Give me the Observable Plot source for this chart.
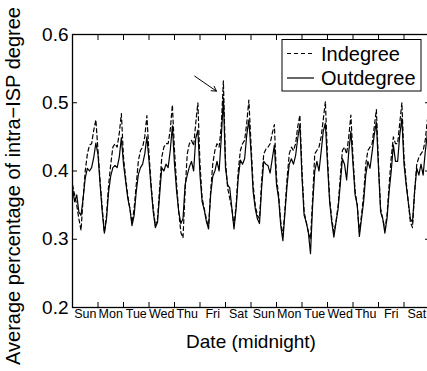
<!DOCTYPE html>
<html><head><meta charset="utf-8">
<script src="https://cdn.jsdelivr.net/npm/d3@7"></script>
<script src="https://cdn.jsdelivr.net/npm/@observablehq/plot@0.6"></script>
<style>html,body{margin:0;padding:0;background:#fff;overflow:hidden;width:427px;height:371px}</style>
</head><body><div id="chart"></div>
<script>
const dayLabels = ["Sun","Mon","Tue","Wed","Thu","Fri","Sat","Sun","Mon","Tue","Wed","Thu","Fri","Sat"];
const yTicks = [0.2, 0.3, 0.4, 0.5, 0.6];
const stepHours = 2;
const indegree = [
  0.38,0.365,0.35,0.33,0.313,0.36,0.40,0.425,0.438,0.44,0.46,0.475,
  0.43,0.385,0.345,0.31,0.335,0.38,0.41,0.435,0.44,0.435,0.455,0.484,
  0.42,0.39,0.365,0.345,0.324,0.345,0.38,0.415,0.43,0.435,0.45,0.481,
  0.425,0.38,0.345,0.32,0.33,0.375,0.42,0.435,0.44,0.44,0.46,0.497,
  0.43,0.38,0.34,0.31,0.302,0.37,0.425,0.44,0.445,0.437,0.47,0.50,
  0.41,0.36,0.345,0.33,0.315,0.37,0.41,0.43,0.44,0.435,0.465,0.532,
  0.415,0.375,0.36,0.345,0.32,0.35,0.40,0.43,0.44,0.445,0.47,0.504,
  0.44,0.38,0.35,0.335,0.33,0.385,0.425,0.432,0.435,0.44,0.455,0.468,
  0.39,0.365,0.325,0.305,0.345,0.39,0.425,0.435,0.43,0.44,0.465,0.482,
  0.40,0.34,0.325,0.31,0.30,0.36,0.425,0.43,0.435,0.45,0.475,0.502,
  0.42,0.36,0.33,0.31,0.325,0.35,0.39,0.43,0.435,0.425,0.45,0.482,
  0.42,0.37,0.35,0.31,0.335,0.365,0.41,0.43,0.435,0.44,0.465,0.49,
  0.41,0.345,0.33,0.315,0.335,0.38,0.42,0.45,0.44,0.44,0.47,0.50,
  0.42,0.385,0.355,0.325,0.317,0.37,0.41,0.42,0.425,0.43,0.445,0.475
];
const outdegree = [
  0.375,0.355,0.365,0.34,0.335,0.36,0.39,0.404,0.40,0.405,0.42,0.441,
  0.424,0.38,0.34,0.309,0.33,0.37,0.393,0.405,0.408,0.405,0.42,0.449,
  0.41,0.385,0.36,0.345,0.32,0.335,0.37,0.395,0.405,0.41,0.425,0.45,
  0.415,0.375,0.34,0.317,0.325,0.365,0.405,0.40,0.41,0.405,0.43,0.466,
  0.41,0.37,0.34,0.323,0.33,0.38,0.394,0.406,0.414,0.40,0.448,0.46,
  0.394,0.355,0.343,0.326,0.316,0.365,0.392,0.40,0.414,0.40,0.448,0.507,
  0.404,0.38,0.375,0.345,0.315,0.345,0.39,0.416,0.41,0.418,0.453,0.475,
  0.428,0.37,0.345,0.33,0.323,0.375,0.414,0.41,0.408,0.397,0.418,0.438,
  0.38,0.36,0.32,0.298,0.34,0.38,0.41,0.418,0.41,0.423,0.448,0.468,
  0.39,0.335,0.325,0.31,0.279,0.35,0.40,0.414,0.40,0.428,0.458,0.47,
  0.41,0.355,0.325,0.303,0.325,0.345,0.38,0.418,0.41,0.387,0.428,0.458,
  0.41,0.365,0.35,0.304,0.33,0.355,0.394,0.414,0.404,0.428,0.453,0.472,
  0.404,0.34,0.33,0.309,0.33,0.37,0.40,0.438,0.414,0.414,0.453,0.477,
  0.41,0.38,0.355,0.33,0.325,0.37,0.404,0.394,0.41,0.394,0.428,0.455
];
const arrowNote = [{x1: 115, y1: 0.539, x2: 135.5, y2: 0.517}];
const seriesNames = ["Indegree", "Outdegree"];

const hours = indegree.map((_, i) => i * stepHours);
const inRows = hours.map((h, i) => ({h, v: indegree[i]}));
const outRows = hours.map((h, i) => ({h, v: outdegree[i]}));
const midnights = dayLabels.slice(1).map((_, i) => (i + 1) * 24);
const noons = dayLabels.map((_, i) => i * 24 + 12);

const font = "'Liberation Sans', Arial, Helvetica, sans-serif";
const chart = Plot.plot({
  width: 431, height: 371,
  marginLeft: 72, marginRight: 2, marginTop: 34, marginBottom: 64,
  style: {fontFamily: font, background: "white", color: "black", maxWidth: "none"},
  x: {domain: [0, 336]},
  y: {domain: [0.2, 0.6]},
  marks: [
    Plot.line(inRows, {x: "h", y: "v", stroke: "black", strokeWidth: 1.2, strokeDasharray: "4,3"}),
    Plot.line(outRows, {x: "h", y: "v", stroke: "black", strokeWidth: 1.2}),
    Plot.axisY({ticks: yTicks, tickSize: 0, tickPadding: 4, tickFormat: d3.format(".1f"), fontSize: 19, label: null}),
    Plot.axisY({ticks: yTicks, tickSize: 5, dx: 5, fill: "none", label: null}),
    Plot.axisY({anchor: "right", ticks: yTicks, tickSize: 5, dx: -5, fill: "none", label: null}),
    Plot.axisX({ticks: midnights, tickSize: 5, dy: -5, fill: "none", label: null}),
    Plot.axisX({anchor: "top", ticks: midnights, tickSize: 5, dy: 5, fill: "none", label: null}),
    Plot.axisX({ticks: noons, tickSize: 0, tickPadding: 2, tickFormat: d => dayLabels[(d - 12) / 24], fontSize: 12.5, label: null}),
    Plot.frame({stroke: "black", strokeWidth: 1.3}),
    Plot.arrow(arrowNote, {x1: "x1", y1: "y1", x2: "x2", y2: "y2", stroke: "black", strokeWidth: 1, headLength: 8}),
    Plot.text(["Date (midnight)"], {text: d => d, frameAnchor: "bottom", dy: 34, fontSize: 19, lineAnchor: "middle", textAnchor: "middle", fill: "black"}),
    Plot.text(["Average percentage of intra−ISP degree"], {text: d => d, frameAnchor: "left", dx: -59, dy: 15, rotate: -90, fontSize: 20, lineAnchor: "middle", textAnchor: "middle", fill: "black"})
  ]
});
chart.style.maxWidth = "none";
document.getElementById("chart").appendChild(chart);

// legend inside the axes (top right)
const svg = d3.select(chart);
const lg = svg.append("g").attr("font-family", font).attr("font-size", 20).attr("text-anchor", "start");
lg.append("rect").attr("x", 282).attr("y", 39.5).attr("width", 139).attr("height", 51.5)
  .attr("fill", "white").attr("stroke", "black").attr("stroke-width", 1);
seriesNames.forEach((name, i) => {
  const y = 53.5 + i * 24.5;
  lg.append("line").attr("x1", 287).attr("x2", 314).attr("y1", y).attr("y2", y)
    .attr("stroke", "black").attr("stroke-width", 1.2)
    .attr("stroke-dasharray", i === 0 ? "4,3" : null);
  lg.append("text").attr("x", 321).attr("y", y).attr("dy", "0.35em").attr("fill", "black").text(name);
});
</script>
</body></html>
